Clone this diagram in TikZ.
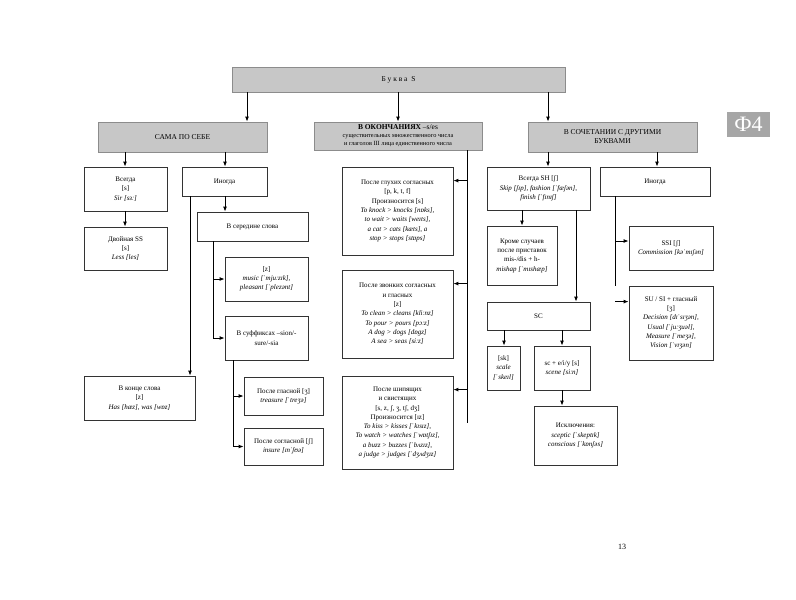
\documentclass[tikz,border=0pt]{standalone}
\usepackage{fontspec}
\setmainfont{Liberation Serif}
\usetikzlibrary{arrows.meta}
\tikzset{
  box/.style={draw=black!80, line width=0.8pt, align=center, inner sep=1pt,
    font=\fontsize{7}{9.3}\selectfont},
  head/.style={box, draw=black!45, fill=black!22, font=\fontsize{7.5}{9}\selectfont},
  arr/.style={line width=0.9pt, -{Latex[length=5pt,width=4pt]}},
  ln/.style={line width=0.9pt}
}
\newcommand{\ex}[1]{\textit{#1}}
\begin{document}
\begin{tikzpicture}[x=1pt,y=-1pt]
  \useasboundingbox (0,0) rectangle (796,600);

  % headers
  \node[head, minimum width=333, minimum height=25] (bukva) at (398.5,79.5) {Б у к в а\ \ S};
  \node[head, minimum width=169, minimum height=30] (sam) at (182.5,137) {САМА ПО СЕБЕ};
  \node[head, minimum width=168, minimum height=28] (okon) at (398,136)
    {\textbf{В ОКОНЧАНИЯХ} –s/es\\[-1pt]\fontsize{6.3}{7}\selectfont существительных множественного числа\\[-1pt]\fontsize{6.3}{7}\selectfont и глаголов III лица единственного числа};
  \node[head, minimum width=169, minimum height=30] (soch) at (612.5,137) {В СОЧЕТАНИИ С ДРУГИМИ\\БУКВАМИ};
  \node[draw=none, fill=black!35, text=white, minimum width=43, minimum height=25,
    font=\fontsize{22}{22}\selectfont] (tab) at (748.5,124.5) {Ф4};

  % left column
  \node[box, minimum width=83, minimum height=44] (vs) at (125.5,189) {Всегда\\{[}s{]}\\\ex{Sir [sɜː]}};
  \node[box, minimum width=85, minimum height=29] (in1) at (224.5,181.5) {Иногда};
  \node[box, minimum width=83, minimum height=43] (dv) at (125.5,248.5) {Двойная SS\\{[}s{]}\\\ex{Less [les]}};
  \node[box, minimum width=111, minimum height=29] (ser) at (252.5,226.5) {В середине слова};
  \node[box, minimum width=83, minimum height=44] (z1) at (266.5,279) {{[}z{]}\\\ex{music [ˈmjuːzɪk],}\\\ex{pleasant [ˈplezənt]}};
  \node[box, minimum width=83, minimum height=44] (suf) at (266.5,338) {В суффиксах –sion/-\\sure/-sia};
  \node[box, minimum width=111, minimum height=44] (kon) at (139.5,398) {В конце слова\\{[}z{]}\\\ex{Has [hæz], was [wɒz]}};
  \node[box, minimum width=79, minimum height=38] (gl) at (283.5,396) {После гласной [ʒ]\\\ex{treasure [ˈtreʒə]}};
  \node[box, minimum width=79, minimum height=37] (sogl) at (283.5,446.5) {После согласной [ʃ]\\\ex{insure [ɪnˈʃʊə]}};

  % middle column
  \node[box, minimum width=111, minimum height=88] (gluh) at (397.5,211)
    {После глухих согласных\\{[}p, k, t, f{]}\\Произносится [s]\\\ex{To knock > knocks [nɒks],}\\\ex{to wait > waits [weɪts],}\\\ex{a cat > cats [kæts], a}\\\ex{stop > stops [stɒps]}};
  \node[box, minimum width=111, minimum height=88] (zvon) at (397.5,314)
    {После звонких согласных\\и гласных\\{[}z{]}\\\ex{To clean > cleans [kliːnz]}\\\ex{To pour > pours [pɔːz]}\\\ex{A dog > dogs [dɒgz]}\\\ex{A sea > seas [siːz]}};
  \node[box, minimum width=111, minimum height=93] (ship) at (397.5,422.5)
    {После шипящих\\и свистящих\\{[}s, z, ʃ, ʒ, tʃ, dʒ{]}\\Произносится [ɪz]\\\ex{To kiss > kisses [ˈkɪsɪz],}\\\ex{To watch > watches [ˈwɒtʃɪz],}\\\ex{a buzz > buzzes [ˈbʌzɪz],}\\\ex{a judge > judges [ˈdʒʌdʒɪz]}};

  % right column
  \node[box, minimum width=103, minimum height=43] (sh) at (538.5,188.5) {Всегда SH [ʃ]\\\ex{Skip [ʃɪp], fashion [ˈfæʃən],}\\\ex{finish [ˈfɪnɪʃ]}};
  \node[box, minimum width=110, minimum height=29] (in2) at (655,181.5) {Иногда};
  \node[box, minimum width=70, minimum height=59] (krome) at (522,255.5) {Кроме случаев\\после приставок\\mis-/dis + h-\\\ex{mishap [ˈmɪshæp]}};
  \node[box, minimum width=103, minimum height=28] (sc) at (538.5,316) {SC};
  \node[box, minimum width=33, minimum height=44] (sk) at (503.5,368) {{[}sk{]}\\\ex{scale}\\\ex{[ˈskeɪl]}};
  \node[box, minimum width=56, minimum height=44] (sce) at (562,368) {sc + e/i/y [s]\\\ex{scene [siːn]}};
  \node[box, minimum width=83, minimum height=59] (isk) at (575.5,435.5) {Исключения:\\\ex{sceptic [ˈskeptɪk]}\\\ex{conscious [ˈkɒnʃəs]}};
  \node[box, minimum width=84, minimum height=44] (ssi) at (671,248) {SSI [ʃ]\\\ex{Commission [kəˈmɪʃən]}};
  \node[box, minimum width=84, minimum height=74] (su) at (671,323) {SU / SI + гласный\\{[}ʒ{]}\\\ex{Decision [dɪˈsɪʒən],}\\\ex{Usual [ˈjuːʒuəl],}\\\ex{Measure [ˈmeʒə],}\\\ex{Vision [ˈvɪʒən]}};

  \node[font=\fontsize{8}{8}\selectfont] (page) at (622,547) {13};

  % x positions of connectors
  \coordinate (a1) at (247,0);
  \coordinate (a2) at (548,0);
  \coordinate (a3) at (125,0);
  \coordinate (a4) at (225,0);
  \coordinate (a5) at (190,0);
  \coordinate (a6) at (213,0);
  \coordinate (a7) at (233,0);
  \coordinate (a8) at (467,0);
  \coordinate (a9) at (657,0);
  \coordinate (a10) at (522,0);
  \coordinate (a11) at (576,0);
  \coordinate (a12) at (504,0);
  \coordinate (a13) at (562,0);
  \coordinate (a14) at (615,0);

  % connectors
  \draw[arr] (a1 |- bukva.south) -- (a1 |- sam.north);
  \draw[arr] (bukva.south -| okon.north) -- (okon.north);
  \draw[arr] (a2 |- bukva.south) -- (a2 |- soch.north);

  \draw[arr] (a3 |- sam.south) -- (a3 |- vs.north);
  \draw[arr] (a4 |- sam.south) -- (a4 |- in1.north);
  \draw[arr] (a3 |- vs.south) -- (a3 |- dv.north);
  \draw[arr] (a4 |- in1.south) -- (a4 |- ser.north);
  \draw[arr] (a5 |- in1.south) -- (a5 |- kon.north);
  \draw[ln] (a6 |- ser.south) -- (a6 |- suf.west);
  \draw[arr] (a6 |- z1.west) -- (z1.west);
  \draw[arr] (a6 |- suf.west) -- (suf.west);
  \draw[ln] (a7 |- suf.south) -- (a7 |- sogl.west);
  \draw[arr] (a7 |- gl.west) -- (gl.west);
  \draw[arr] (a7 |- sogl.west) -- (sogl.west);

  \draw[ln] (a8 |- okon.south) -- (a8 |- ship.east);
  \draw[arr] (a8 |- gluh.north east) ++(0,14) -- ([yshift=-14pt]gluh.north east);
  \draw[arr] (a8 |- zvon.north east) ++(0,14) -- ([yshift=-14pt]zvon.north east);
  \draw[arr] (a8 |- ship.north east) ++(0,14) -- ([yshift=-14pt]ship.north east);

  \draw[arr] (a2 |- soch.south) -- (a2 |- sh.north);
  \draw[arr] (a9 |- soch.south) -- (a9 |- in2.north);
  \draw[arr] (a10 |- sh.south) -- (a10 |- krome.north);
  \draw[arr] (a11 |- sh.south) -- (a11 |- sc.north);
  \draw[arr] (a12 |- sc.south) -- (a12 |- sk.north);
  \draw[arr] (a13 |- sc.south) -- (a13 |- sce.north);
  \draw[arr] (a13 |- sce.south) -- (a13 |- isk.north);
  \draw[ln] (a14 |- in2.south) -- (a14 |- su.north);
  \draw[arr] (a14 |- ssi.west) ++(0,-7) -- ([yshift=7pt]ssi.west);
  \draw[arr] (a14 |- su.north west) ++(0,16) -- ([yshift=-16pt]su.north west);
\end{tikzpicture}
\end{document}
